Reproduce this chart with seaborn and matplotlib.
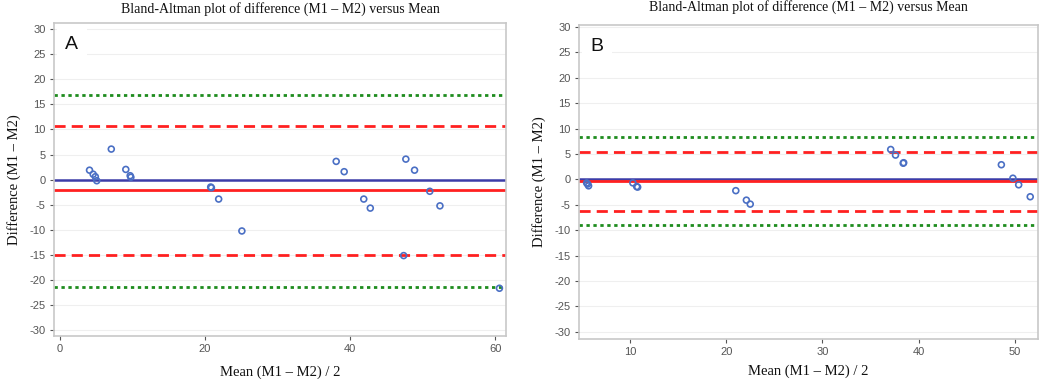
import numpy as np
import pandas as pd
import matplotlib
matplotlib.use("Agg")
import matplotlib.pyplot as plt
import seaborn as sns

# ---- data ----
a_mean = [4.1, 4.6, 4.9, 5.1, 7.1, 9.1, 9.7, 9.8, 20.8, 20.9, 21.9, 25.1, 38.1, 39.2,
          41.9, 42.8, 47.4, 47.7, 48.9, 51.0, 52.4, 60.6]
a_diff = [1.9, 1.1, 0.6, -0.2, 6.1, 2.05, 0.8, 0.5, -1.45, -1.6, -3.85, -10.2, 3.65, 1.6,
          -3.85, -5.65, -15.1, 4.1, 1.9, -2.3, -5.2, -21.6]
a_lines = {"zero": 0.0, "bias": -2.1, "loa_hi": 10.6, "loa_lo": -14.9, "ci_hi": 16.9, "ci_lo": -21.3}

b_mean = [5.5, 5.6, 5.7, 10.3, 10.7, 10.8, 21.0, 22.1, 22.5, 37.1, 37.6, 38.4, 38.45,
          48.6, 49.8, 50.4, 51.6]
b_diff = [-0.7, -0.9, -1.25, -0.67, -1.4, -1.5, -2.2, -4.07, -4.85, 5.9, 4.8, 3.2, 3.3,
          2.9, 0.25, -1.05, -3.4]
b_lines = {"zero": 0.0, "bias": -0.3, "loa_hi": 5.4, "loa_lo": -6.2, "ci_hi": 8.4, "ci_lo": -9.0}

title = "Bland-Altman plot of difference (M1 \u2013 M2) versus Mean"
xlabel = "Mean (M1 \u2013 M2) / 2"
ylabel = "Difference (M1 \u2013 M2)"
yticks = list(range(-30, 31, 5))

sns.set_theme(style="white")
plt.rcParams["font.family"] = ["Liberation Sans", "DejaVu Sans"]
plt.rcParams["axes.unicode_minus"] = False

fig = plt.figure(figsize=(10.4, 3.79), dpi=100)
axA = fig.add_axes([0.0519, 0.1135, 0.4346, 0.8259])
axB = fig.add_axes([0.5567, 0.1055, 0.4413, 0.8285])

blue_pt = "#4a6fc4"
line_styles = {
    "zero": dict(color="#3c3ca8", ls="-", lw=1.8),
    "bias": dict(color="#ff2020", ls="-", lw=2.0),
    "loa_hi": dict(color="#ff2020", ls=(0, (4, 2.2)), lw=2.0),
    "loa_lo": dict(color="#ff2020", ls=(0, (4, 2.2)), lw=2.0),
    "ci_hi": dict(color="#1e8c1e", ls=(0, (1.2, 1.3)), lw=2.0),
    "ci_lo": dict(color="#1e8c1e", ls=(0, (1.2, 1.3)), lw=2.0),
}

def draw(ax, xs, ys, lines, xlim, ylim, xticks, letter, title_y, xpad):
    for y in yticks:
        ax.axhline(y, color="#efefef", lw=0.8, zorder=0)
    for key in ["ci_hi", "ci_lo", "loa_hi", "loa_lo", "zero", "bias"]:
        ax.axhline(lines[key], zorder=2, **line_styles[key])
    df = pd.DataFrame({"m": xs, "d": ys})
    sns.scatterplot(data=df, x="m", y="d", ax=ax, marker="o", s=18,
                    facecolors="none", edgecolor=blue_pt, linewidth=1.2, zorder=3)
    ax.set_xlim(*xlim)
    ax.set_ylim(*ylim)
    ax.set_yticks(yticks)
    ax.set_xticks(xticks)
    ax.tick_params(axis="both", colors="#555555", labelsize=8, length=3, width=0.8,
                   direction="out", pad=3, bottom=True, left=True)
    for t in ax.get_xticklabels() + ax.get_yticklabels():
        t.set_color("#555555")
    for sp in ax.spines.values():
        sp.set_color("#c8c8c8")
        sp.set_linewidth(1.2)
    ax.set_xlabel(xlabel, family="Liberation Serif", fontsize=10.5, color="#111111", labelpad=xpad)
    ax.set_ylabel(ylabel, family="Liberation Serif", fontsize=10.5, color="#111111", labelpad=6)
    ax.text(0.5, title_y, title, transform=ax.transAxes, ha="center", va="center",
            family="Liberation Serif", fontsize=10, color="#111111")
    ax.text(0.025, 0.93, letter, transform=ax.transAxes, ha="left", va="center",
            fontsize=14, color="#111111",
            bbox=dict(facecolor="white", edgecolor="none", pad=6), zorder=4)

draw(axA, a_mean, a_diff, a_lines, (-0.8, 61.5), (-31.1, 31.2), [0, 20, 40, 60], "A", 1.043, 8)
draw(axB, b_mean, b_diff, b_lines, (4.7, 52.4), (-31.4, 30.4), [10, 20, 30, 40, 50], "B", 1.057, 5)

fig.savefig("out.png", dpi=100)
